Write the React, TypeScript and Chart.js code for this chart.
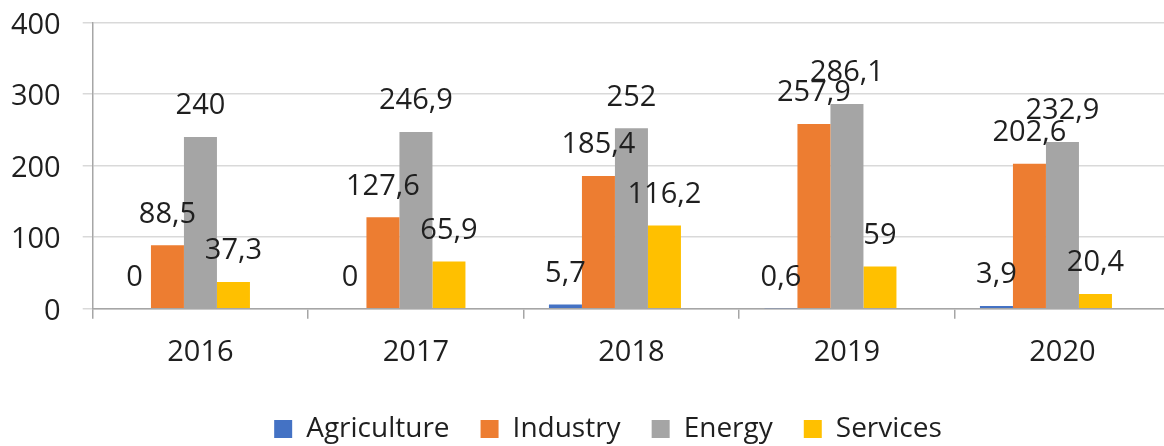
import React, { useEffect, useRef } from "react";
import { Chart, registerables } from "chart.js";

Chart.register(...registerables);

const years = ["2016", "2017", "2018", "2019", "2020"];
const agriculture = [0, 0, 5.7, 0.6, 3.9];
const industry = [88.5, 127.6, 185.4, 257.9, 202.6];
const energy = [240, 246.9, 252, 286.1, 232.9];
const services = [37.3, 65.9, 116.2, 59, 20.4];
const seriesNames = ["Agriculture", "Industry", "Energy", "Services"];
const seriesColors = ["#4472C4", "#ED7D31", "#A5A5A5", "#FFC000"];
const yMin = 0;
const yMax = 400;
const yStep = 100;

const FONT = "'Open Sans', 'Noto Sans', sans-serif";
const TEXT = "#1f1f1f";
const FS = 29;
const LEGEND_FS = 28;

const valueLabels = {
  id: "valueLabels",
  afterDatasetsDraw(chart: any) {
    const ctx = chart.ctx;
    ctx.save();
    ctx.font = `${FS}px ${FONT}`;
    ctx.fillStyle = TEXT;
    ctx.textAlign = "center";
    ctx.textBaseline = "middle";
    chart.data.datasets.forEach((ds: any, i: number) => {
      if (i >= seriesNames.length) return;
      const meta = chart.getDatasetMeta(i);
      meta.data.forEach((el: any, j: number) => {
        const v = ds.data[j];
        if (v === null || v === undefined) return;
        const text = String(v).replace(".", ",");
        ctx.fillText(text, el.x, el.y - 31);
      });
    });
    ctx.restore();
  },
};

export default function App() {
  const ref = useRef<HTMLCanvasElement>(null);

  useEffect(() => {
    const seriesData = [agriculture, industry, energy, services];
    const datasets: any[] = seriesData.map((d, i) => ({
      label: seriesNames[i],
      data: d,
      backgroundColor: seriesColors[i],
      borderWidth: 0,
      categoryPercentage: 0.7657,
      barPercentage: 1,
    }));
    // empty fifth series (reserves a slot like the original spreadsheet chart)
    datasets.push({
      label: "",
      data: years.map(() => null),
      backgroundColor: "rgba(0,0,0,0)",
      borderWidth: 0,
      categoryPercentage: 0.7657,
      barPercentage: 1,
    });

    const chart = new Chart(ref.current!, {
      type: "bar",
      data: { labels: years, datasets },
      options: {
        responsive: false,
        animation: false,
        devicePixelRatio: 1,
        layout: { padding: { left: 8, right: 0, top: 0, bottom: 0 } },
        scales: {
          x: {
            grid: {
              display: true,
              drawOnChartArea: false,
              drawTicks: true,
              tickLength: 10,
              color: "#a6a6a6",
              tickColor: "#a6a6a6",
              lineWidth: 1.5,
              offset: true,
            },
            border: { display: true, color: "#a6a6a6", width: 1.5 },
            ticks: {
              font: { size: FS, family: FONT },
              color: TEXT,
              padding: 17,
              maxRotation: 0,
              autoSkip: false,
            },
            afterFit: (s: any) => {
              s.height = 75.3;
            },
          },
          y: {
            min: yMin,
            max: yMax,
            grid: {
              color: "#d9d9d9",
              lineWidth: 1.5,
              tickLength: 10,
              tickColor: "#d9d9d9",
            },
            border: { display: true, color: "#a6a6a6", width: 1.5 },
            ticks: {
              stepSize: yStep,
              font: { size: FS, family: FONT },
              color: TEXT,
              padding: 22,
              labelOffset: 3,
              callback: (v: any) => String(v),
            },
            afterFit: (s: any) => {
              s.width = 84.7;
            },
          },
          // blank spacer axis on the right (keeps the legend centred like the original)
          ySpacer: {
            type: "linear",
            position: "right",
            display: true,
            grid: { display: false, drawTicks: false },
            border: { display: false },
            ticks: { display: false },
            afterFit: (s: any) => {
              s.width = 37.8;
            },
          },
        },
        plugins: {
          legend: {
            position: "bottom",
            labels: {
              boxWidth: 18,
              boxHeight: 18,
              padding: 31,
              font: { size: LEGEND_FS, family: FONT },
              color: TEXT,
              filter: (item: any) => item.datasetIndex < seriesNames.length,
            },
          },
          tooltip: { enabled: false },
        },
      } as any,
      plugins: [valueLabels],
    });
    return () => chart.destroy();
  }, []);

  return (
    <div
      style={{
        position: "absolute",
        left: 0,
        top: 0,
        width: 1164,
        height: 446,
        overflow: "hidden",
        background: "#fff",
      }}
    >
      <canvas
        ref={ref}
        width={1208}
        height={470}
        style={{
          width: 1208,
          height: 470,
          display: "block",
          position: "absolute",
          left: 0,
          top: -16.7,
        }}
      />
    </div>
  );
}
